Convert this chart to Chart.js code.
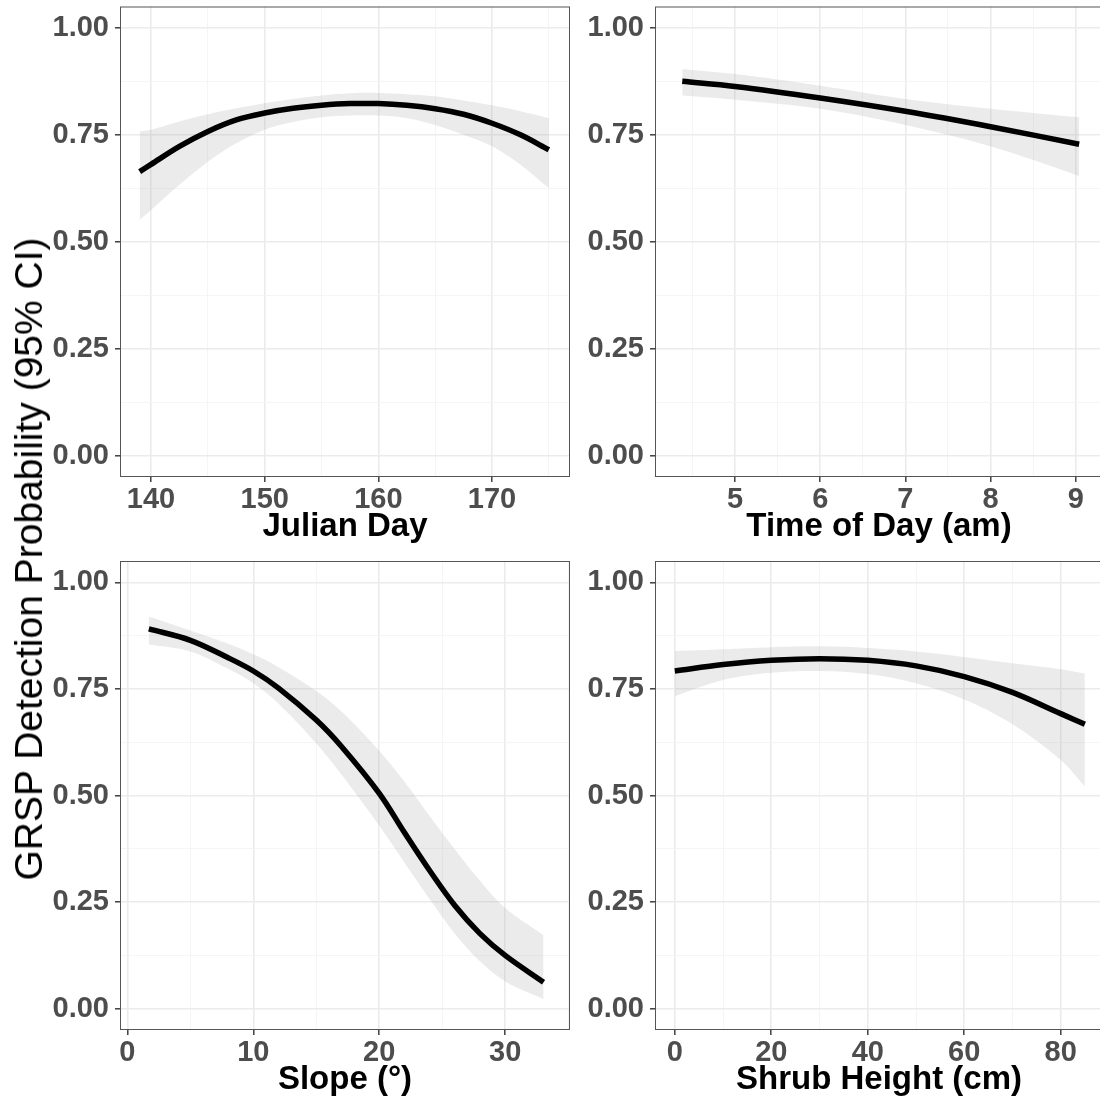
<!DOCTYPE html>
<html>
<head>
<meta charset="utf-8">
<script src="https://cdn.jsdelivr.net/npm/chart.js@4.4.1/dist/chart.umd.min.js"></script>
<style>
  html, body { margin: 0; padding: 0; background: #fff; overflow: hidden; }
  #page { position: relative; width: 1100px; height: 1108px; overflow: hidden; }
  #page canvas { position: absolute; }
  #ytitle {
    position: absolute; left: 29px; top: 559px;
    transform: translate(-50%, -50%) rotate(-90deg);
    font: 39px 'Liberation Sans', Arial, sans-serif;
    color: #000; white-space: nowrap;
  }
</style>
</head>
<body>
<div id="page">
  <canvas id="julianChart" width="535" height="555" style="left:40px;top:0px"></canvas>
  <canvas id="timeChart" width="530" height="555" style="left:575px;top:0px"></canvas>
  <canvas id="slopeChart" width="535" height="553" style="left:40px;top:555px"></canvas>
  <canvas id="shrubChart" width="530" height="553" style="left:575px;top:555px"></canvas>
  <div id="ytitle">GRSP Detection Probability (95% CI)</div>
</div>
<script>
// y axis breaks shared by every panel
var yMajorTicks = [0, 0.25, 0.5, 0.75, 1];
var yMinorTicks = [0.125, 0.375, 0.625, 0.875];

// Julian day
var julianDay = [139, 140, 142.5, 145, 147.5, 150, 152.5, 155, 157.5, 160, 162.5, 165, 167.5, 170, 172.5, 175];
var julianFit = [0.664, 0.681, 0.723, 0.758, 0.785, 0.801, 0.812, 0.819, 0.823, 0.823, 0.819, 0.811, 0.798, 0.777, 0.750, 0.715];
var julianUpper = [0.758, 0.762, 0.781, 0.798, 0.812, 0.824, 0.834, 0.842, 0.847, 0.848, 0.845, 0.840, 0.830, 0.819, 0.805, 0.789];
var julianLower = [0.551, 0.574, 0.633, 0.687, 0.730, 0.762, 0.780, 0.791, 0.795, 0.795, 0.789, 0.773, 0.750, 0.723, 0.680, 0.625];
var julianTicks = [140, 150, 160, 170];
var julianMinor = [145, 155, 165, 175];

// time of day
var timeOfDay = [4.38, 5, 6, 7, 8, 9.04];
var timeFit = [0.875, 0.863, 0.836, 0.805, 0.769, 0.728];
var timeUpper = [0.904, 0.892, 0.865, 0.834, 0.811, 0.791];
var timeLower = [0.842, 0.832, 0.811, 0.773, 0.723, 0.654];
var timeTicks = [5, 6, 7, 8, 9];
var timeMinor = [4.5, 5.5, 6.5, 7.5, 8.5];

// slope
var slope = [1.7, 5, 8, 10, 12, 15, 17, 20, 22, 24, 26, 28, 30, 33.05];
var slopeFit = [0.891, 0.864, 0.823, 0.792, 0.752, 0.677, 0.615, 0.505, 0.413, 0.324, 0.242, 0.176, 0.125, 0.062];
var slopeUpper = [0.920, 0.887, 0.856, 0.831, 0.801, 0.745, 0.697, 0.605, 0.532, 0.452, 0.374, 0.300, 0.236, 0.172];
var slopeLower = [0.854, 0.838, 0.797, 0.763, 0.715, 0.622, 0.549, 0.429, 0.343, 0.257, 0.176, 0.111, 0.064, 0.023];
var slopeTicks = [0, 10, 20, 30];
var slopeMinor = [5, 15, 25, 35];

// shrub height
var shrubHeight = [0, 10, 20, 30, 40, 50, 60, 70, 80, 85];
var shrubFit = [0.792, 0.807, 0.817, 0.821, 0.817, 0.804, 0.779, 0.742, 0.692, 0.667];
var shrubUpper = [0.839, 0.843, 0.848, 0.850, 0.846, 0.838, 0.825, 0.810, 0.796, 0.786];
var shrubLower = [0.733, 0.771, 0.788, 0.792, 0.785, 0.763, 0.725, 0.667, 0.583, 0.521];
var shrubTicks = [0, 20, 40, 60, 80];
var shrubMinor = [10, 30, 50, 70];

Chart.defaults.font.family = "'Liberation Sans', Arial, sans-serif";

// panel border drawn on top, like theme_bw
var panelFrame = {
    id: 'panelFrame',
    afterDraw: function(chart) {
        var a = chart.chartArea, ctx = chart.ctx;
        ctx.save();
        ctx.strokeStyle = '#555555';
        ctx.lineWidth = 1;
        ctx.strokeRect(a.left + 0.5, a.top + 0.5, a.right - a.left - 1, a.bottom - a.top - 1);
        ctx.restore();
    }
};

function points(xs, ys) {
    return xs.map(function(x, i) { return {x: x, y: ys[i]}; });
}

function breakTicks(major, minor) {
    return major.concat(minor).sort(function(a, b) { return a - b; })
        .map(function(v) { return {value: v}; });
}

function gridFor(major) {
    return {
        color: function(c) { return major.indexOf(c.tick.value) >= 0 ? '#ebebeb' : '#f4f4f4'; },
        lineWidth: function(c) { return major.indexOf(c.tick.value) >= 0 ? 1.6 : 0.9; },
        tickColor: function(c) { return major.indexOf(c.tick.value) >= 0 ? '#333333' : 'rgba(0,0,0,0)'; },
        tickWidth: 1.4,
        tickLength: 5,
        drawTicks: true
    };
}

function createPanel(id, xTitle, xs, fit, upper, lower, xMajor, xMinor, xMin, xMax, padTop, padRight) {
    return new Chart(document.getElementById(id), {
        type: 'scatter',
        data: {
            datasets: [{
                data: points(xs, fit),
                showLine: true,
                borderColor: '#000000',
                borderWidth: 5.5,
                pointRadius: 0,
                tension: 0.35
            }, {
                data: points(xs, lower),
                showLine: true,
                borderWidth: 0,
                borderColor: 'rgba(0,0,0,0)',
                pointRadius: 0,
                tension: 0.35,
                fill: false
            }, {
                data: points(xs, upper),
                showLine: true,
                borderWidth: 0,
                borderColor: 'rgba(0,0,0,0)',
                backgroundColor: 'rgba(153,153,153,0.2)',
                pointRadius: 0,
                tension: 0.35,
                fill: '-1'
            }]
        },
        options: {
            responsive: false,
            animation: false,
            events: [],
            layout: { padding: { top: padTop, right: padRight, left: 0, bottom: 0 } },
            plugins: { legend: { display: false }, tooltip: { enabled: false } },
            scales: {
                x: {
                    type: 'linear',
                    min: xMin,
                    max: xMax,
                    afterBuildTicks: function(s) { s.ticks = breakTicks(xMajor, xMinor); },
                    afterFit: function(s) { s.height = 78; s.paddingLeft = 0; s.paddingRight = 0; },
                    border: { display: false },
                    grid: gridFor(xMajor),
                    ticks: {
                        autoSkip: false,
                        maxRotation: 0,
                        padding: 1,
                        color: '#4d4d4d',
                        font: { size: 29, weight: 'bold' },
                        callback: function(v) { return xMajor.indexOf(v) >= 0 ? String(v) : ''; }
                    },
                    title: {
                        display: true,
                        text: xTitle,
                        color: '#000000',
                        font: { size: 33, weight: 'bold', lineHeight: 1.2 },
                        padding: { top: 0, bottom: 8 }
                    }
                },
                y: {
                    type: 'linear',
                    min: -0.05,
                    max: 1.05,
                    afterBuildTicks: function(s) { s.ticks = breakTicks(yMajorTicks, yMinorTicks); },
                    afterFit: function(s) { s.width = 80; s.paddingTop = 0; s.paddingBottom = 0; },
                    border: { display: false },
                    grid: gridFor(yMajorTicks),
                    ticks: {
                        autoSkip: false,
                        padding: 6,
                        color: '#4d4d4d',
                        font: { size: 29, weight: 'bold' },
                        callback: function(v) { return yMajorTicks.indexOf(v) >= 0 ? v.toFixed(2) : ''; }
                    }
                }
            }
        },
        plugins: [panelFrame]
    });
}

createPanel('julianChart', 'Julian Day', julianDay, julianFit, julianUpper, julianLower,
    julianTicks, julianMinor, 137.27, 176.86, 6.5, 5);
createPanel('timeChart', 'Time of Day (am)', timeOfDay, timeFit, timeUpper, timeLower,
    timeTicks, timeMinor, 4.06, 9.32, 6.5, 2);
createPanel('slopeChart', 'Slope (\u00b0)', slope, slopeFit, slopeUpper, slopeLower,
    slopeTicks, slopeMinor, -0.59, 35.15, 6, 5);
createPanel('shrubChart', 'Shrub Height (cm)', shrubHeight, shrubFit, shrubUpper, shrubLower,
    shrubTicks, shrubMinor, -4.1, 88.76, 6, 2);
</script>
</body>
</html>
